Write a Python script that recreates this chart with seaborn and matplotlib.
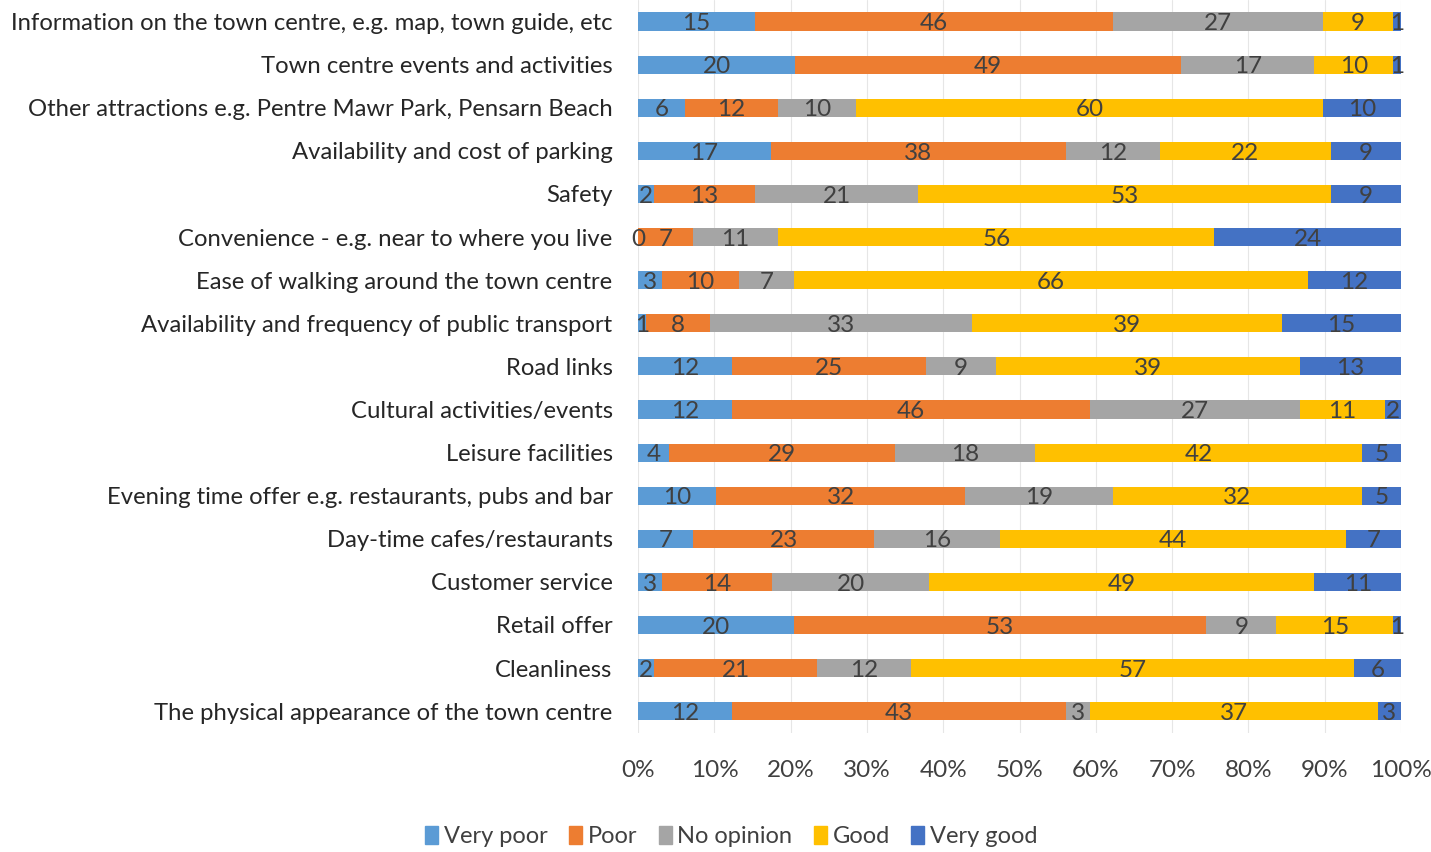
import numpy as np
import pandas as pd
import seaborn as sns
import matplotlib.pyplot as plt
from matplotlib.patches import Patch

sns.set_theme(style="white")
plt.rcParams["font.family"] = ["Lato", "DejaVu Sans"]

categories = [
    "Information on the town centre, e.g. map, town guide, etc",
    "Town centre events and activities",
    "Other attractions e.g. Pentre Mawr Park, Pensarn Beach",
    "Availability and cost of parking",
    "Safety",
    "Convenience - e.g. near to where you live",
    "Ease of walking around the town centre",
    "Availability and frequency of public transport",
    "Road links",
    "Cultural activities/events",
    "Leisure facilities",
    "Evening time offer e.g. restaurants, pubs and bar",
    "Day-time cafes/restaurants",
    "Customer service",
    "Retail offer",
    "Cleanliness",
    "The physical appearance of the town centre",
]
very_poor = [15, 20, 6, 17, 2, 0, 3, 1, 12, 12, 4, 10, 7, 3, 20, 2, 12]
poor = [46, 49, 12, 38, 13, 7, 10, 8, 25, 46, 29, 32, 23, 14, 53, 21, 43]
no_opinion = [27, 17, 10, 12, 21, 11, 7, 33, 9, 27, 18, 19, 16, 20, 9, 12, 3]
good = [9, 10, 60, 22, 53, 56, 66, 39, 39, 11, 42, 32, 44, 49, 15, 57, 37]
very_good = [1, 1, 10, 9, 9, 24, 12, 15, 13, 2, 5, 5, 7, 11, 1, 6, 3]

series = ["Very poor", "Poor", "No opinion", "Good", "Very good"]
colors = ["#5B9BD5", "#ED7D31", "#A5A5A5", "#FFC000", "#4472C4"]

df = pd.DataFrame({"Very poor": very_poor, "Poor": poor, "No opinion": no_opinion,
                   "Good": good, "Very good": very_good}, index=categories)
pct = df.div(df.sum(axis=1), axis=0) * 100
cum = pct.cumsum(axis=1)

fig = plt.figure(figsize=(14.31, 8.52), dpi=100)
ax = fig.add_axes([0.446, 0.14, 0.533, 0.86])

# overlay cumulative bars, widest first -> looks stacked
for s, c in reversed(list(zip(series, colors))):
    sns.barplot(x=cum[s].values, y=categories, color=c, width=0.42,
                orient="h", ax=ax, saturation=1, linewidth=0)

for i, cat in enumerate(categories):
    for s in series:
        mid = cum.loc[cat, s] - pct.loc[cat, s] / 2
        ax.text(mid, i + 0.05, str(df.loc[cat, s]), ha="center", va="center",
                fontsize=17.5, color="#404040")

ax.set_xlim(0, 100)
ax.set_ylim(16.5, -0.5)
ax.set_xticks(np.arange(0, 101, 10))
ax.set_xticklabels([f"{v}%" for v in range(0, 101, 10)])
ax.tick_params(axis="x", labelsize=17.5, colors="#404040", length=0, pad=20)
ax.tick_params(axis="y", labelsize=17.2, colors="#262626", length=0, pad=18.5)
ax.grid(axis="x", color="#e6e6e6", linewidth=0.8)
ax.set_axisbelow(True)
for sp in ax.spines.values():
    sp.set_visible(False)
ax.set_xlabel("")
ax.set_ylabel("")

leg_handles = [Patch(color=c) for c in colors]
fig.legend(leg_handles, series, loc="center", bbox_to_anchor=(0.511, 0.018),
           ncol=5, frameon=False, fontsize=17, handlelength=0.55, handleheight=0.8,
           handletextpad=0.25, columnspacing=0.9, labelcolor="#404040")

fig.savefig("out.png", dpi=100)
